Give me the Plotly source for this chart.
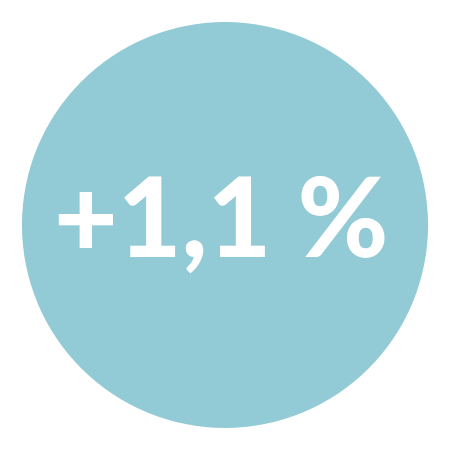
import plotly.graph_objects as go

# single headline figure
labels = ["Variazione"]
values = [1.1]
text_labels = ["+1,1 %"]

fig = go.Figure()

fig.add_trace(go.Pie(
    labels=labels,
    values=values,
    textinfo='none',
    marker=dict(colors=['#92CBD6'], line=dict(width=0)),
    sort=False,
    hoverinfo='skip',
    showlegend=False,
))

# testo centrale
fig.add_annotation(
    text=text_labels[0],
    x=0.5, y=0.5,
    xref='paper', yref='paper',
    xanchor='center', yanchor='middle',
    xshift=-4, yshift=11,
    showarrow=False,
    font=dict(family="Lato", size=110, color='white', weight=900),
)

fig.update_layout(
    width=434,
    height=434,
    margin=dict(l=14, r=14, t=14, b=14),
    paper_bgcolor='white',
    plot_bgcolor='white',
)

fig.write_html("out.html")
